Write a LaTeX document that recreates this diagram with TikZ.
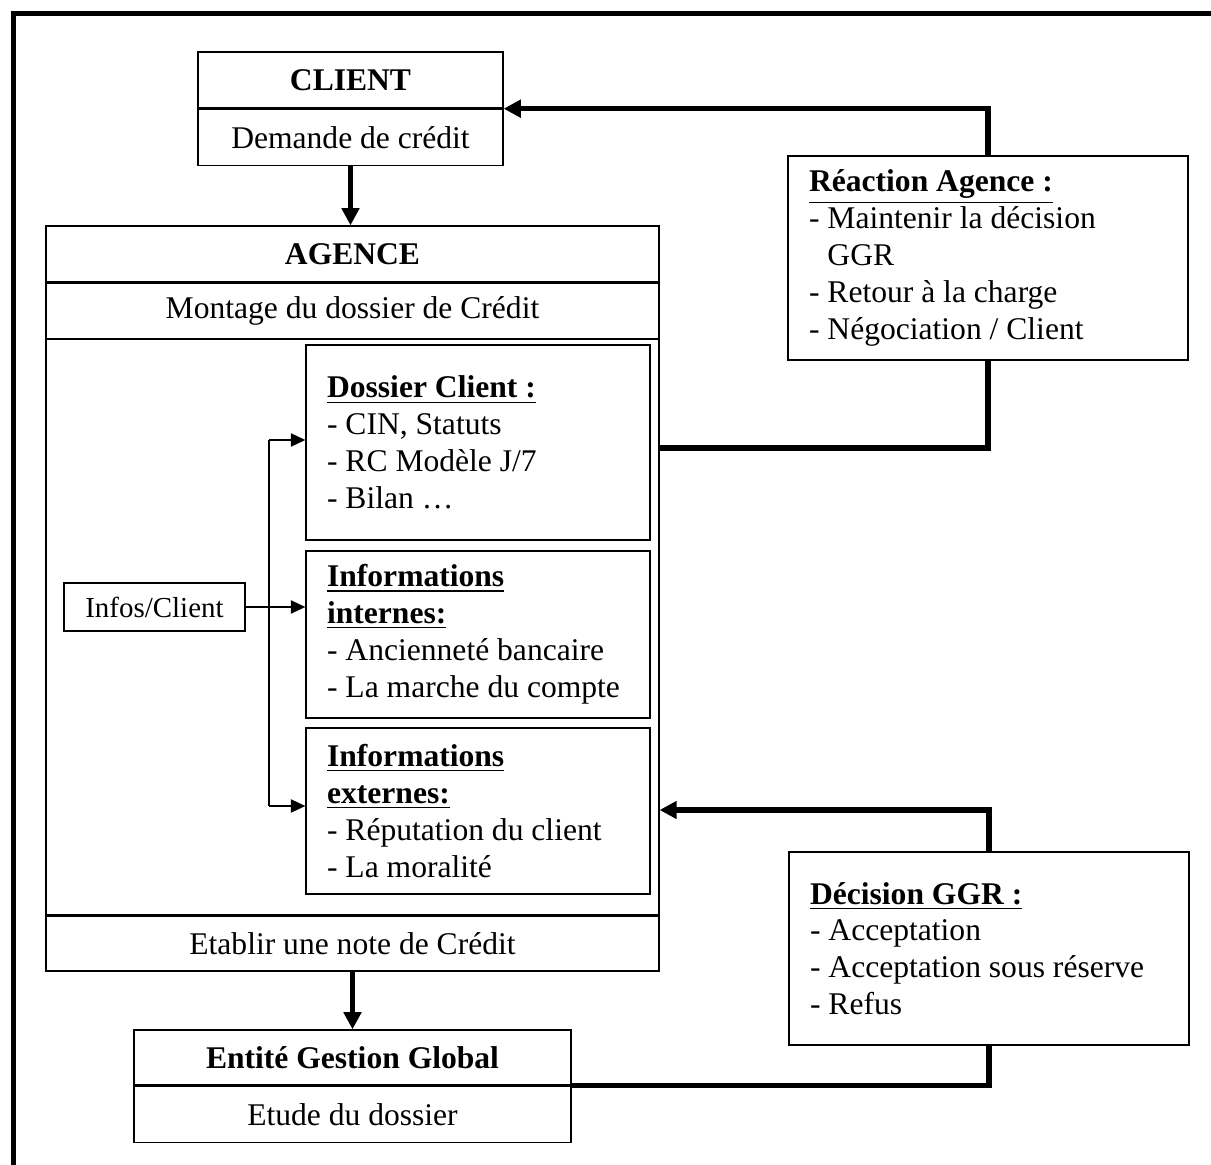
\documentclass[tikz,border=0pt]{standalone}
\usepackage{fontspec}
\setmainfont{Liberation Serif}
\usetikzlibrary{arrows.meta,positioning}

\begin{document}
\begin{tikzpicture}[
  x=0.38pt, y=-0.38pt,
  font=\fontsize{12}{14}\selectfont,
  box/.style={draw, line width=0.5pt, inner sep=0pt, align=center},
  part/.style={box, minimum height=21.3pt},
  listbox/.style={draw, line width=0.5pt, inner xsep=8pt, inner ysep=0pt,
    align=flush left},
  fat/.style={line width=2pt},
  fatarrow/.style={fat, -{Triangle[length=6.5pt, width=6.5pt]}},
  thinarrow/.style={line width=0.6pt, -{Triangle[length=5.5pt, width=5pt]}},
]
  \clip (0,0) rectangle (1211,1165);
  % outer frame, cut at the right and bottom
  \draw[line width=1.9pt] (13,1200) -- (13,14) -- (1250,14);

  % client
  \node[part, minimum width=115.9pt] (clientT) at (350.5,80) {\textbf{CLIENT}};
  \node[part, minimum width=115.9pt, below=0pt of clientT] (clientB) {Demande de crédit};

  % agence
  \node[part, minimum width=232.9pt] (agenceT) at (352.5,254) {\textbf{AGENCE}};
  \node[part, minimum width=232.9pt, minimum height=20.9pt, below=0pt of agenceT] (agenceM)
    {Montage du dossier de Crédit};
  \node[box, minimum width=232.9pt, minimum height=218.5pt, below=0pt of agenceM] (agenceC) {};
  \node[part, minimum width=232.9pt, minimum height=20.9pt, below=0pt of agenceC] (agenceB)
    {Etablir une note de Crédit};

  \node[listbox, text width=114.7pt, minimum height=74.1pt] (dossier) at (478,442.5)
    {\underline{\textbf{Dossier Client :}}\\- CIN, Statuts\\- RC Modèle J/7\\- Bilan …};
  \node[listbox, text width=114.7pt, minimum height=63.5pt] (internes) at (478,634.5)
    {\underline{\textbf{Informations}}\\\underline{\textbf{internes:}}\\- Ancienneté bancaire\\- La marche du compte};
  \node[listbox, text width=114.7pt, minimum height=63.1pt] (externes) at (478,811)
    {\underline{\textbf{Informations}}\\\underline{\textbf{externes:}}\\- Réputation du client\\- La moralité};
  \node[box, minimum width=68.8pt, minimum height=18.2pt, font=\fontsize{11}{13}\selectfont]
    (infos) at (154.5,607) {Infos/Client};

  % entite gestion global
  \node[part, minimum width=166.1pt, minimum height=20.9pt] (entT) at (352.5,1057.5)
    {\textbf{Entité Gestion Global}};
  \node[part, minimum width=166.1pt, below=0pt of entT] (entB) {Etude du dossier};

  % reaction / decision
  \node[listbox, text width=136pt, minimum height=77.5pt] (reaction) at (988,258)
    {\underline{\textbf{Réaction Agence :}}\\- Maintenir la décision\\\phantom{- }GGR\\- Retour à la charge\\- Négociation / Client};
  \node[listbox, text width=136pt, minimum height=73.3pt] (decision) at (989,948.5)
    {\underline{\textbf{Décision GGR :}}\\- Acceptation\\- Acceptation sous réserve\\- Refus};

  % main flow
  \draw[fatarrow] (clientB.south) -- (clientB.south |- agenceT.north);
  \draw[fatarrow] (agenceB.south) -- (agenceB.south |- entT.north);

  % infos client
  \coordinate (jt) at (269,440);
  \coordinate (jb) at (269,806);
  \draw[line width=0.6pt] (jt) -- (jb);
  \draw[thinarrow] (jt) -- (jt -| dossier.west);
  \draw[thinarrow] (jb) -- (jb -| externes.west);
  \draw[thinarrow] (infos.east) -- (infos.east -| internes.west);

  % return loops
  \draw[fat] (agenceC.east |- 0,448) -| (reaction.south);
  \draw[fatarrow] (reaction.north) |- (clientT.south east);
  \draw[fat] (entT.south east) -| (decision.south);
  \draw[fatarrow] (decision.north) |- (agenceC.east |- 0,810);
\end{tikzpicture}
\end{document}
